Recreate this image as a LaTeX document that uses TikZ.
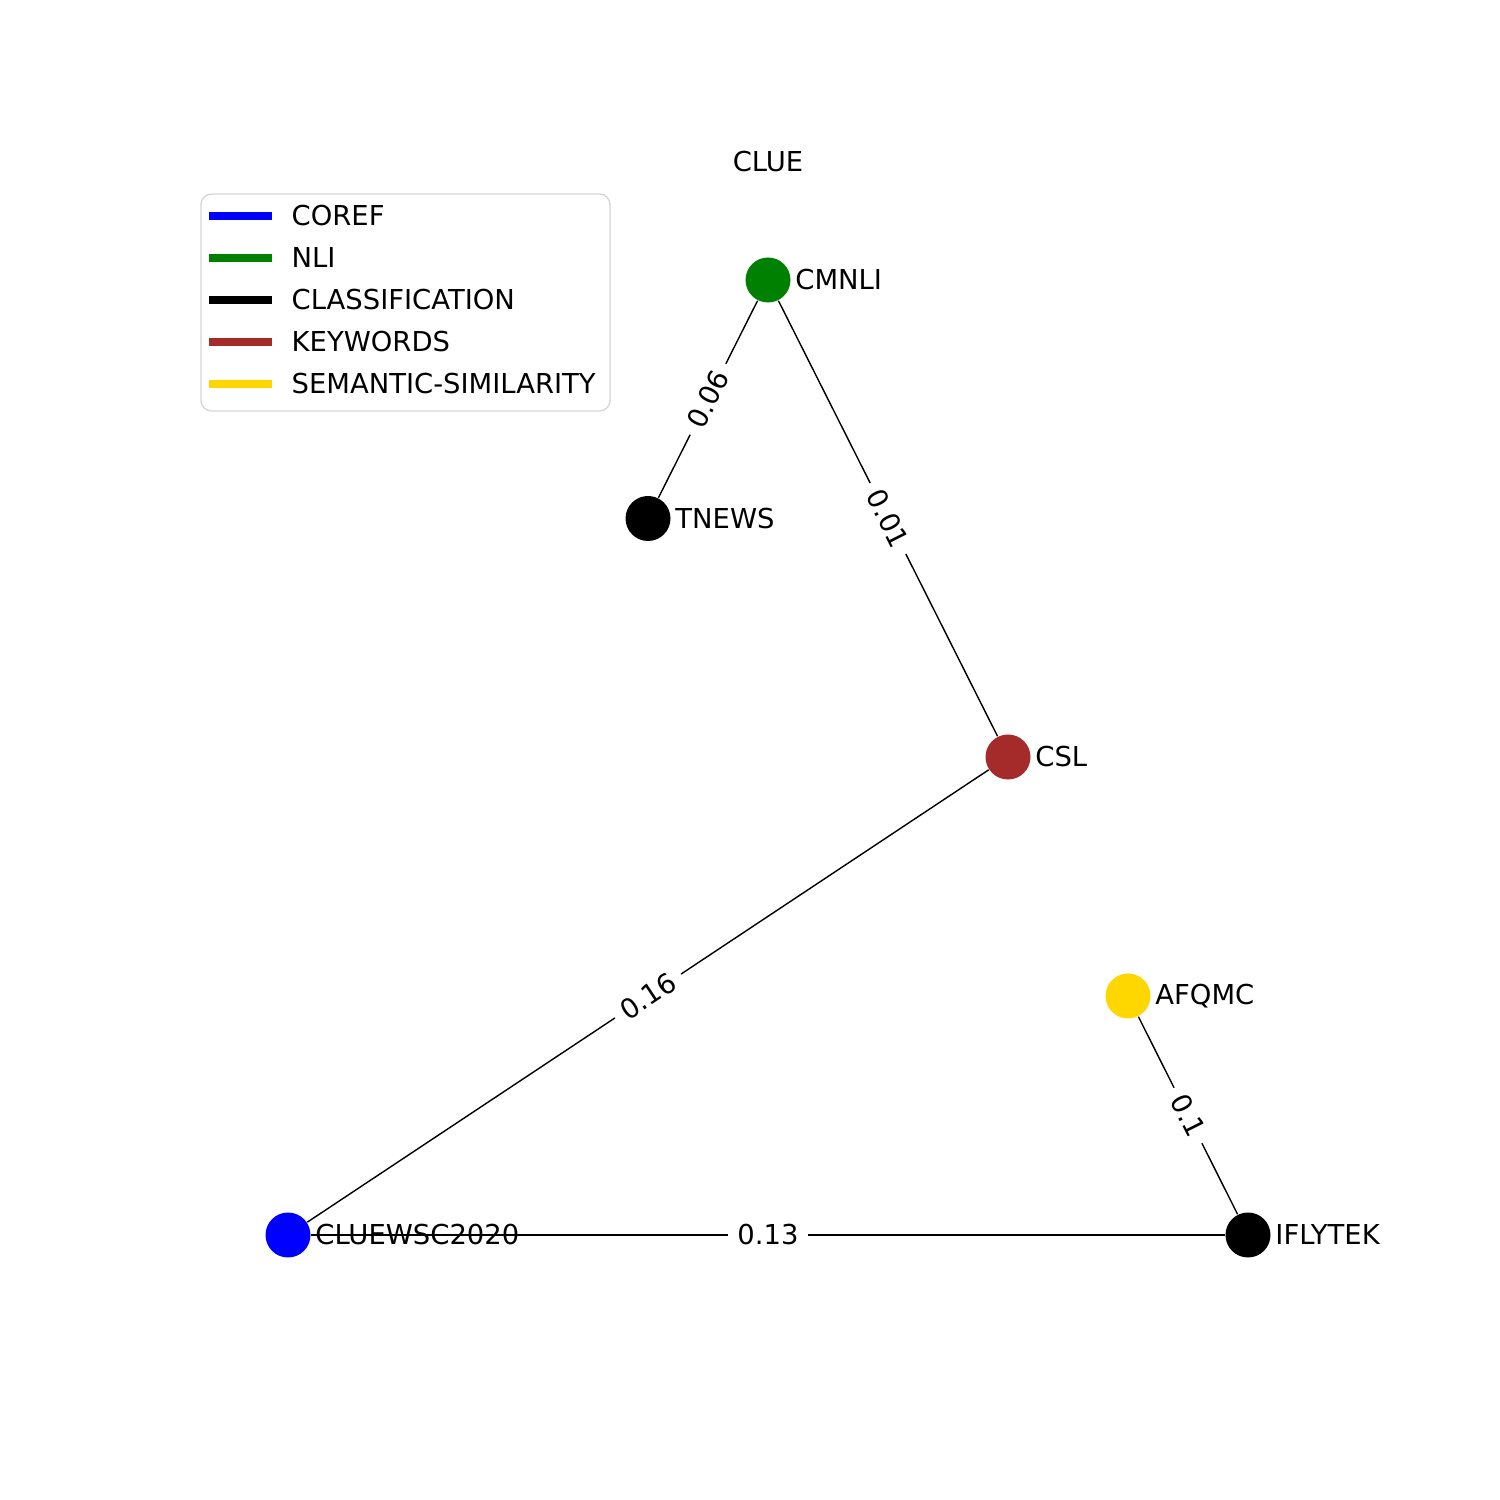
\documentclass[tikz,border=0pt]{standalone}
\usepackage{fontspec}
\setmainfont{DejaVu Sans}
\usepackage{tikz}
\usetikzlibrary{backgrounds}
\definecolor{coref}{RGB}{0, 0, 255}
\definecolor{nli}{RGB}{0, 128, 0}
\definecolor{keywords}{RGB}{165, 42, 42}
\definecolor{semsim}{RGB}{255, 215, 0}
\definecolor{frame}{RGB}{214, 214, 214}

\begin{document}
\begin{tikzpicture}[font=\fontsize{7.8}{9}\selectfont,
  task/.style={circle, minimum size=0.45cm, inner sep=0pt, label={[inner sep=1pt]right:#1}},
  weight/.style={midway, sloped, fill=white, inner sep=2.6pt},
  key/.style={line width=2pt},
  keytext/.style={anchor=west, inner sep=0pt}]
  \useasboundingbox (0, 0) rectangle (15, 15);

  \node (title) at (7.68, 13.38) {CLUE};

  % legend
  \draw[rounded corners=3pt, frame, line width=0.4pt] (2.01, 10.89) rectangle (6.10, 13.06);
  \draw[key, coref] (2.09, 12.84) -- (2.72, 12.84);
  \node[keytext] (kcoref) at (2.91, 12.84) {COREF};
  \draw[key, nli] (2.09, 12.42) -- (2.72, 12.42);
  \node[keytext] (knli) at (2.91, 12.42) {NLI};
  \draw[key, black] (2.09, 12.00) -- (2.72, 12.00);
  \node[keytext] (kclass) at (2.91, 12.00) {CLASSIFICATION};
  \draw[key, keywords] (2.09, 11.58) -- (2.72, 11.58);
  \node[keytext] (kkeyw) at (2.91, 11.58) {KEYWORDS};
  \draw[key, semsim] (2.09, 11.16) -- (2.72, 11.16);
  \node[keytext] (ksem) at (2.91, 11.16) {SEMANTIC-SIMILARITY};

  % tasks
  \node[task=CMNLI, fill=nli] (cmnli) at (7.68, 12.20) {};
  \node[task=TNEWS, fill=black] (tnews) at (6.48, 9.815) {};
  \node[task=CSL, fill=keywords] (csl) at (10.08, 7.43) {};
  \node[task=AFQMC, fill=semsim] (afqmc) at (11.28, 5.04) {};
  \node[task=CLUEWSC2020, fill=coref] (cluewsc) at (2.88, 2.65) {};
  \node[task=IFLYTEK, fill=black] (iflytek) at (12.48, 2.65) {};

  \begin{scope}[on background layer, line width=0.3pt]
    \draw (tnews) -- node[weight] {0.06} (cmnli);
    \draw (cmnli) -- node[weight] {0.01} (csl);
    \draw (cluewsc) -- node[weight] {0.16} (csl);
    \draw (cluewsc) -- node[weight] {0.13} (iflytek);
    \draw (afqmc) -- node[weight] {0.1} (iflytek);
  \end{scope}
\end{tikzpicture}
\end{document}
